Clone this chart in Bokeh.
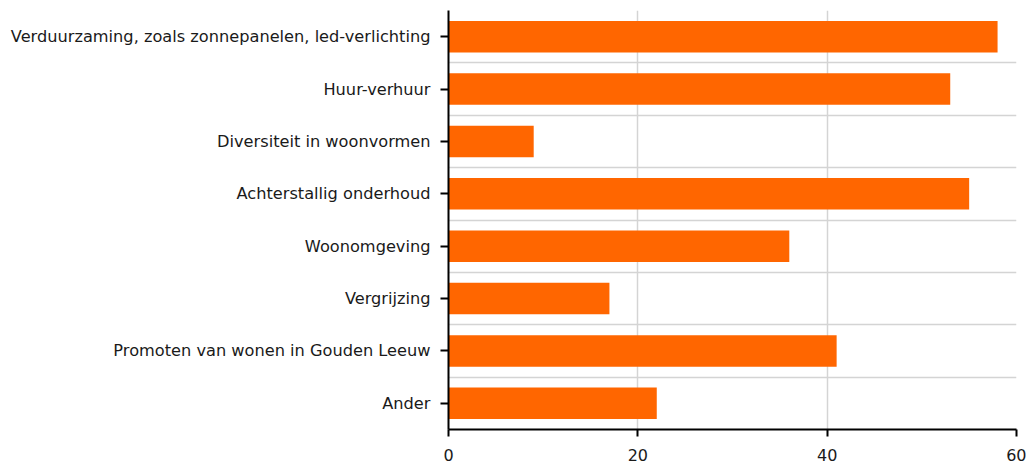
from bokeh.plotting import figure
from bokeh.models import Range1d, FixedTicker, ColumnDataSource
from bokeh.embed import file_html
from bokeh.resources import INLINE

categories = [
    "Verduurzaming, zoals zonnepanelen, led-verlichting",
    "Huur-verhuur",
    "Diversiteit in woonvormen",
    "Achterstallig onderhoud",
    "Woonomgeving",
    "Vergrijzing",
    "Promoten van wonen in Gouden Leeuw",
    "Ander",
]
values = [58, 53, 9, 55, 36, 17, 41, 22]
x_ticks = [0, 20, 40, 60]

n = len(categories)
pos = [n - i - 0.5 for i in range(n)]
src = ColumnDataSource(dict(y=pos, v=values, cat=categories))

p = figure(width=1026, height=461, output_backend="svg", toolbar_location=None,
           x_range=Range1d(0, 60), y_range=Range1d(0, n),
           frame_width=568, frame_height=419,
           min_border_left=448, min_border_top=10, min_border_right=10, min_border_bottom=10)
p.outline_line_color = None
p.background_fill_color = "white"

p.hbar(y="y", right="v", left=0, height=0.6, source=src, color="#FF6600", line_color=None)

font = "DejaVu Sans"
# x axis
p.xaxis.ticker = FixedTicker(ticks=x_ticks)
p.xaxis.axis_line_color = "black"
p.xaxis.axis_line_width = 2
p.xaxis.major_tick_line_width = 2
p.xaxis.major_tick_out = 7
p.xaxis.major_tick_in = 0
p.xaxis.minor_tick_line_color = None
p.xaxis.major_label_text_font = font
p.xaxis.major_label_text_font_size = "16px"
p.xaxis.major_label_text_color = "#1a1a1a"
p.xaxis.major_label_standoff = 12

# y axis
p.yaxis.ticker = FixedTicker(ticks=pos)
p.yaxis.major_label_overrides = {pv: c for pv, c in zip(pos, categories)}
p.yaxis.axis_line_color = "black"
p.yaxis.axis_line_width = 2
p.yaxis.major_tick_line_width = 2
p.yaxis.major_tick_out = 8
p.yaxis.major_tick_in = 0
p.yaxis.minor_tick_line_color = None
p.yaxis.major_label_text_font = font
p.yaxis.major_label_text_font_size = "16.2px"
p.yaxis.major_label_text_color = "#1a1a1a"
p.yaxis.major_label_standoff = 10

# grids
p.xgrid.ticker = FixedTicker(ticks=x_ticks)
p.xgrid.grid_line_color = "#d4d4d4"
p.xgrid.grid_line_width = 1.5
p.ygrid.ticker = FixedTicker(ticks=list(range(n + 1)))
p.ygrid.grid_line_color = "#d4d4d4"
p.ygrid.grid_line_width = 1.5

open("out.html", "w").write(file_html(p, INLINE))
